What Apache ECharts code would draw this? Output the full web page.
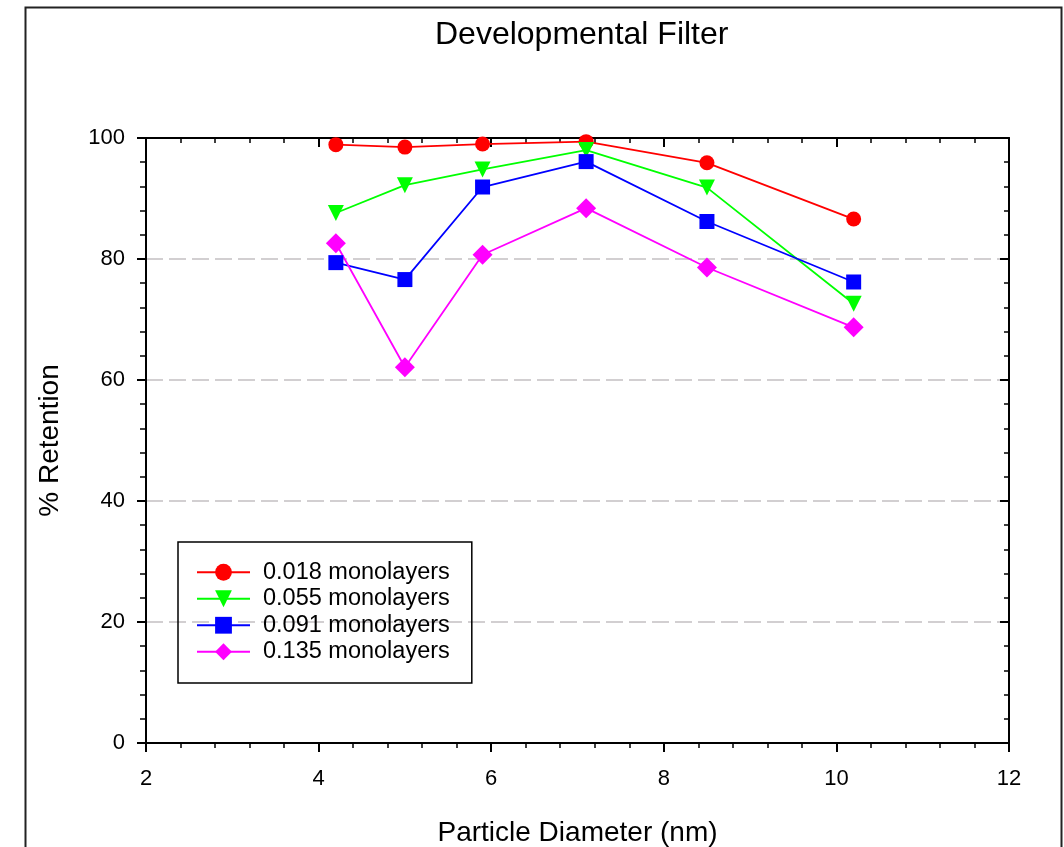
<!DOCTYPE html>
<html>
<head>
<meta charset="utf-8">
<script src="https://cdn.jsdelivr.net/npm/echarts@6/dist/echarts.min.js"></script>
<style>html,body{margin:0;padding:0;background:#fff}#c{width:1064px;height:847px}</style>
</head>
<body>
<div id="c"></div>
<script>
var diameters = [4.2, 5.0, 5.9, 7.1, 8.5, 10.2];
var s018 = [98.9, 98.5, 99.0, 99.4, 95.9, 86.6];
var s055 = [87.6, 92.2, 94.8, 98.0, 91.8, 72.6];
var s091 = [79.4, 76.6, 91.9, 96.1, 86.2, 76.2];
var s135 = [82.6, 62.1, 80.7, 88.4, 78.6, 68.7];
var seriesNames = ['0.018 monolayers', '0.055 monolayers', '0.091 monolayers', '0.135 monolayers'];
var xTicks = [2, 4, 6, 8, 10, 12];
var yTicks = [0, 20, 40, 60, 80, 100];

var FONT = '"Liberation Sans", Arial, sans-serif';
function pairs(ys){ return diameters.map(function(x,i){ return [x, ys[i]]; }); }

var chart = echarts.init(document.getElementById('c'), null, {renderer:'canvas'});
var mk = function(name, data, color, symbol, size){
  return {
    name: name, type: 'line', data: pairs(data),
    symbol: symbol, symbolSize: size,
    lineStyle: {color: color, width: 1.8},
    itemStyle: {color: color},
    z: 5
  };
};
var axisCommon = {
  type: 'value', min: xTicks[0], max: xTicks[xTicks.length-1], interval: 2,
  axisLine: {show: true, onZero: false, lineStyle: {color: '#000', width: 2}},
  splitLine: {show: false}
};
chart.setOption({
  animation: false,
  backgroundColor: '#fff',
  title: {
    text: 'Developmental Filter', left: 430, top: 14,
    textStyle: {fontFamily: FONT, fontSize: 32, fontWeight: 'normal', color: '#000'}
  },
  grid: {left: 146, right: 55, top: 138, bottom: 104, containLabel: false, outerBoundsMode: 'none'},
  legend: {
    orient: 'vertical', left: 178, top: 542,
    padding: [17, 22, 18, 18],
    borderColor: '#000', borderWidth: 1.5,
    itemWidth: 53, itemHeight: 21, itemGap: 0,
    textStyle: {fontFamily: FONT, fontSize: 23.5, color: '#000', lineHeight: 26.5, padding: [0,0,0,8]},
    data: seriesNames
  },
  xAxis: [
    Object.assign({}, axisCommon, {
      position: 'bottom',
      name: 'Particle Diameter (nm)', nameLocation: 'middle', nameGap: 76,
      nameTextStyle: {fontFamily: FONT, fontSize: 28, color: '#000'},
      axisTick: {show: true, inside: false, length: 9, lineStyle: {color: '#000', width: 2}},
      minorTick: {show: true, splitNumber: 5, length: 5, lineStyle: {color: '#000', width: 1.5}},
      axisLabel: {fontFamily: FONT, fontSize: 22, color: '#000', margin: 25}
    }),
    Object.assign({}, axisCommon, {
      position: 'top',
      axisTick: {show: true, inside: true, length: 9, lineStyle: {color: '#000', width: 2}},
      minorTick: {show: true, splitNumber: 5, length: 5, lineStyle: {color: '#000', width: 1.5}},
      axisLabel: {show: false}
    })
  ],
  yAxis: [
    {
      type: 'value', min: yTicks[0], max: yTicks[yTicks.length-1], interval: 20,
      position: 'left',
      name: '% Retention', nameLocation: 'middle', nameGap: 82,
      nameTextStyle: {fontFamily: FONT, fontSize: 28, color: '#000'},
      axisLine: {show: true, onZero: false, lineStyle: {color: '#000', width: 2}},
      axisTick: {show: true, inside: false, length: 9, lineStyle: {color: '#000', width: 2}},
      minorTick: {show: true, splitNumber: 5, length: 6, lineStyle: {color: '#000', width: 1.5}},
      axisLabel: {fontFamily: FONT, fontSize: 22, color: '#000', margin: 21},
      splitLine: {show: true, showMinLine: false, showMaxLine: false,
        lineStyle: {color: '#c4c0c2', width: 1.5, type: [17, 6]}}
    },
    {
      type: 'value', min: yTicks[0], max: yTicks[yTicks.length-1], interval: 20,
      position: 'right',
      axisLine: {show: true, onZero: false, lineStyle: {color: '#000', width: 2}},
      axisTick: {show: true, inside: true, length: 9, lineStyle: {color: '#000', width: 2}},
      minorTick: {show: true, splitNumber: 5, length: 5, lineStyle: {color: '#000', width: 1.5}},
      axisLabel: {show: false},
      splitLine: {show: false}
    }
  ],
  graphic: [{
    type: 'rect', left: 23, top: 5, z: -10, silent: true,
    shape: {width: 1036, height: 900},
    style: {fill: null, stroke: '#222', lineWidth: 2}
  }],
  series: [
    mk(seriesNames[0], s018, '#ff0000', 'circle', 15),
    mk(seriesNames[1], s055, '#00ff00', 'path://M0,0 L10,0 L5,9 Z', 16),
    mk(seriesNames[2], s091, '#0000ff', 'rect', 15),
    mk(seriesNames[3], s135, '#ff00ff', 'diamond', 20)
  ]
});
</script>
</body>
</html>
